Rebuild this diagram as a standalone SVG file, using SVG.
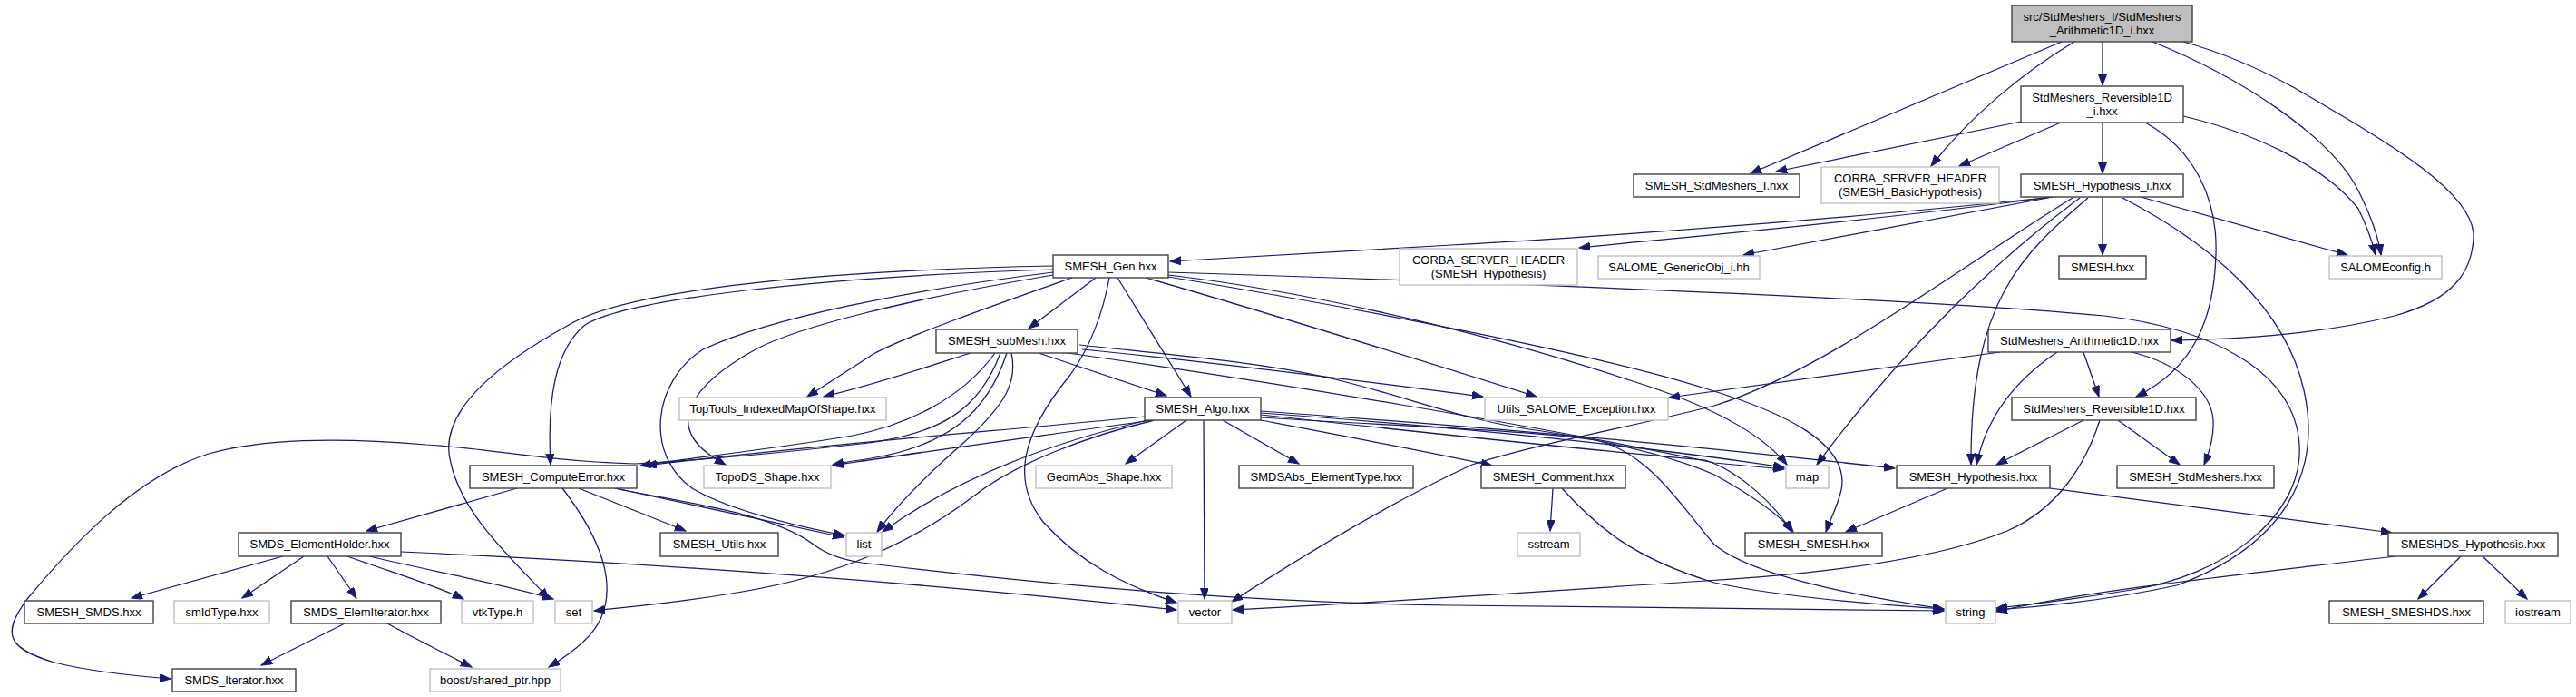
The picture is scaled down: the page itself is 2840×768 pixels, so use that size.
<svg xmlns="http://www.w3.org/2000/svg" width="2840" height="768" viewBox="0 0 2840 768">
<defs>
<style>
.e{fill:none;stroke:#191970;stroke-width:1.25;marker-end:url(#a)}
.n rect{fill:#fff;stroke:#404040;stroke-width:1.4}
.g rect{fill:#fff;stroke:#bfbfbf;stroke-width:1.4}
.r rect{fill:#bfbfbf;stroke:#404040;stroke-width:1.4}
text{font-family:"Liberation Sans",Arial,sans-serif;font-size:13px;text-anchor:middle;fill:#000}
</style>
<marker id="a" markerUnits="userSpaceOnUse" markerWidth="13" markerHeight="10" refX="12" refY="4.5" orient="auto"><path d="M0,0 L12,4.5 L0,9 z" fill="#191970" stroke="#191970" stroke-width="1"/></marker>
</defs>
<rect width="2840" height="768" fill="#fff"/>
<g id="edges">
<path class="e" d="M2273,46 L1930,191"/>
<path class="e" d="M2287,46 C2230,80 2170,130 2129,183"/>
<path class="e" d="M2318,46 L2318,94"/>
<path class="e" d="M2373,46 C2470,85 2570,150 2600,210 C2615,240 2622,260 2625,281"/>
<path class="e" d="M2407,46 C2450,58 2490,75 2530,97 C2620,150 2730,210 2727,262 C2725,300 2705,330 2640,348 C2560,368 2470,374 2394,375"/>
<path class="e" d="M2228,134 L1958,189"/>
<path class="e" d="M2272,135 L2160,183"/>
<path class="e" d="M2318,135 L2318,191"/>
<path class="e" d="M2407,128 C2480,145 2560,180 2600,230 C2610,250 2615,265 2619,281"/>
<path class="e" d="M2365,135 C2420,165 2445,220 2443,280 C2441,350 2420,405 2355,437"/>
<path class="e" d="M2263,217 C2050,240 1750,262 1600,270 C1480,277 1380,283 1290,288"/>
<path class="e" d="M2263,217 C2050,245 1850,262 1741,273"/>
<path class="e" d="M2263,217 L1922,281"/>
<path class="e" d="M2318,217 L2318,281"/>
<path class="e" d="M2360,217 L2588,281"/>
<path class="e" d="M2293,218 C2210,280 2100,380 2003,512"/>
<path class="e" d="M2285,218 C2160,295 2010,410 1890,447 C1800,470 1690,490 1623,512 C1540,550 1440,610 1358,663"/>
<path class="e" d="M2302,218 C2230,280 2172,330 2173,512"/>
<path class="e" d="M2340,218 C2440,270 2520,340 2540,430 C2560,520 2520,600 2400,645 C2330,660 2260,668 2201,672"/>
<path class="e" d="M1208,306 L1134,362"/>
<path class="e" d="M1232,306 L1313,437"/>
<path class="e" d="M1223,306 C1215,350 1200,385 1180,413 C1125,480 1115,530 1150,575 C1190,620 1240,645 1297,664"/>
<path class="e" d="M1263,306 C1400,345 1560,395 1694,437"/>
<path class="e" d="M1288,300 C1600,310 2100,328 2320,348 C2440,362 2530,410 2535,490 C2540,570 2450,635 2350,650 C2300,658 2250,665 2201,670"/>
<path class="e" d="M1288,303 C1450,322 1650,370 1800,420 C1880,445 1940,475 1970,512"/>
<path class="e" d="M1288,305 C1500,340 1760,390 1880,428 C1970,455 2040,490 2030,540 C2025,560 2018,572 2013,586"/>
<path class="e" d="M1161,293 C900,298 690,320 627,358 C560,395 480,450 497,510 C510,570 570,620 605,660"/>
<path class="e" d="M1161,297 C900,305 690,330 645,358 C612,385 603,440 607,512"/>
<path class="e" d="M1161,300 C1000,320 850,350 775,385 C720,420 710,500 763,538 C800,560 870,578 931,590"/>
<path class="e" d="M1161,303 C1000,330 880,360 833,385 C770,420 720,470 800,512"/>
<path class="e" d="M1182,306 C1100,335 1000,370 963,390 L890,437"/>
<path class="e" d="M1070,389 C1020,405 960,425 908,437"/>
<path class="e" d="M1097,389 C1060,440 1000,468 940,480 C850,495 760,505 706,513"/>
<path class="e" d="M1103,389 C1080,450 1040,480 940,490 C850,500 760,508 700,511 C600,508 520,492 470,490 C400,484 300,480 230,500 C150,525 80,600 30,660 C0,700 10,715 60,730 C100,740 150,745 188,748"/>
<path class="e" d="M1110,389 C1090,450 1050,495 940,508 L918,512"/>
<path class="e" d="M1115,389 C1122,420 1110,445 1060,490 C1020,525 990,555 967,586"/>
<path class="e" d="M1145,389 L1286,436"/>
<path class="e" d="M1193,385 C1350,400 1500,420 1635,437"/>
<path class="e" d="M1190,380 C1300,392 1400,400 1480,420 C1560,440 1620,465 1700,475 C1800,490 1860,510 1890,523 C1930,545 1960,565 1977,586"/>
<path class="e" d="M1170,388 C1400,420 1700,470 1890,510 L1967,517"/>
<path class="e" d="M1262,459 C1100,475 900,490 712,513"/>
<path class="e" d="M1270,463 C1150,480 1000,500 918,513"/>
<path class="e" d="M1265,463 C1150,490 1050,530 973,586"/>
<path class="e" d="M1273,463 C1200,480 1120,510 1073,547 C990,610 900,640 800,655 C740,665 700,668 655,673"/>
<path class="e" d="M1308,463 L1241,511"/>
<path class="e" d="M1327,463 L1328,660"/>
<path class="e" d="M1348,463 L1432,511"/>
<path class="e" d="M1390,463 C1480,480 1560,495 1645,513"/>
<path class="e" d="M1390,455 C1600,470 1800,490 1967,515"/>
<path class="e" d="M1390,457 C1600,480 1800,500 1880,507 C1920,520 1960,560 1975,586"/>
<path class="e" d="M1390,453 C1700,475 1900,495 2089,516"/>
<path class="e" d="M1390,460 C1550,470 1700,475 1760,485 C1820,500 1855,560 1890,600 C1920,625 2000,650 2143,671"/>
<path class="e" d="M570,538 L404,585"/>
<path class="e" d="M638,538 L756,585"/>
<path class="e" d="M678,538 L930,592"/>
<path class="e" d="M678,538 C760,555 850,565 897,600 C910,610 930,617 950,620 C1200,650 1400,664 1600,667 C1800,670 2000,672 2143,673"/>
<path class="e" d="M620,538 C660,590 680,640 663,680 C655,700 630,720 605,735"/>
<path class="e" d="M312,613 L145,659"/>
<path class="e" d="M335,613 L267,659"/>
<path class="e" d="M361,613 L393,659"/>
<path class="e" d="M383,613 C430,630 480,645 511,660"/>
<path class="e" d="M407,613 C480,630 560,645 610,660"/>
<path class="e" d="M442,608 C700,620 1000,640 1297,672"/>
<path class="e" d="M380,687 L288,733"/>
<path class="e" d="M427,687 C460,705 490,720 520,735"/>
<path class="e" d="M1712,538 L1709,585"/>
<path class="e" d="M1722,538 C1760,580 1800,615 1890,642 C1950,655 2050,665 2143,671"/>
<path class="e" d="M2147,538 L2035,586"/>
<path class="e" d="M2260,538 L2637,587"/>
<path class="e" d="M2713,613 L2666,660"/>
<path class="e" d="M2737,613 L2786,660"/>
<path class="e" d="M2640,613 C2500,630 2300,650 2201,674"/>
<path class="e" d="M2205,388 L1840,438"/>
<path class="e" d="M2268,388 C2220,420 2190,460 2179,512"/>
<path class="e" d="M2297,388 L2314,437"/>
<path class="e" d="M2350,388 C2400,400 2438,430 2440,463 C2441,480 2437,495 2430,512"/>
<path class="e" d="M2297,463 L2201,512"/>
<path class="e" d="M2335,463 L2403,512"/>
<path class="e" d="M2315,463 C2300,510 2270,560 2213,585 C2150,610 2050,630 1880,640 C1700,652 1500,665 1359,672"/>
</g>
<g id="n0" class="r"><rect x="2218" y="6" width="199" height="40"/><text x="2317.5" y="23">src/StdMeshers_I/StdMeshers</text><text x="2317.5" y="38">_Arithmetic1D_i.hxx</text></g>
<g id="n1" class="n"><rect x="2228" y="95" width="179" height="40"/><text x="2317.5" y="112">StdMeshers_Reversible1D</text><text x="2317.5" y="127">_i.hxx</text></g>
<g id="n2" class="n"><rect x="1801" y="192" width="183" height="25"/><text x="1892.5" y="209">SMESH_StdMeshers_I.hxx</text></g>
<g id="n3" class="g"><rect x="2008" y="184" width="196" height="40"/><text x="2106" y="201">CORBA_SERVER_HEADER</text><text x="2106" y="216">(SMESH_BasicHypothesis)</text></g>
<g id="n4" class="n"><rect x="2228" y="192" width="179" height="25"/><text x="2317.5" y="209">SMESH_Hypothesis_i.hxx</text></g>
<g id="n5" class="g"><rect x="2568" y="282" width="124" height="25"/><text x="2630" y="299">SALOMEconfig.h</text></g>
<g id="n6" class="n"><rect x="1161" y="281" width="127" height="25"/><text x="1224.5" y="298">SMESH_Gen.hxx</text></g>
<g id="n7" class="g"><rect x="1543" y="274" width="196" height="40"/><text x="1641" y="291">CORBA_SERVER_HEADER</text><text x="1641" y="306">(SMESH_Hypothesis)</text></g>
<g id="n8" class="g"><rect x="1762" y="282" width="178" height="25"/><text x="1851" y="299">SALOME_GenericObj_i.hh</text></g>
<g id="n9" class="n"><rect x="2270" y="282" width="96" height="25"/><text x="2318" y="299">SMESH.hxx</text></g>
<g id="n10" class="n"><rect x="2192" y="363" width="201" height="25"/><text x="2292.5" y="380">StdMeshers_Arithmetic1D.hxx</text></g>
<g id="n11" class="n"><rect x="1032" y="363" width="156" height="26"/><text x="1110" y="380">SMESH_subMesh.hxx</text></g>
<g id="n12" class="g"><rect x="749" y="438" width="228" height="25"/><text x="863" y="455">TopTools_IndexedMapOfShape.hxx</text></g>
<g id="n13" class="g"><rect x="1637" y="438" width="202" height="25"/><text x="1738" y="455">Utils_SALOME_Exception.hxx</text></g>
<g id="n14" class="n"><rect x="1262" y="438" width="128" height="25"/><text x="1326" y="455">SMESH_Algo.hxx</text></g>
<g id="n15" class="n"><rect x="2218" y="438" width="203" height="25"/><text x="2319.5" y="455">StdMeshers_Reversible1D.hxx</text></g>
<g id="n16" class="n"><rect x="518" y="513" width="184" height="25"/><text x="610" y="530">SMESH_ComputeError.hxx</text></g>
<g id="n17" class="g"><rect x="776" y="513" width="140" height="25"/><text x="846" y="530">TopoDS_Shape.hxx</text></g>
<g id="n18" class="g"><rect x="1142" y="513" width="150" height="25"/><text x="1217" y="530">GeomAbs_Shape.hxx</text></g>
<g id="n19" class="n"><rect x="1366" y="513" width="192" height="25"/><text x="1462" y="530">SMDSAbs_ElementType.hxx</text></g>
<g id="n20" class="n"><rect x="1633" y="513" width="159" height="25"/><text x="1712.5" y="530">SMESH_Comment.hxx</text></g>
<g id="n21" class="g"><rect x="1969" y="513" width="47" height="25"/><text x="1992.5" y="530">map</text></g>
<g id="n22" class="n"><rect x="2091" y="513" width="169" height="25"/><text x="2175.5" y="530">SMESH_Hypothesis.hxx</text></g>
<g id="n23" class="n"><rect x="2334" y="513" width="173" height="25"/><text x="2420.5" y="530">SMESH_StdMeshers.hxx</text></g>
<g id="n24" class="n"><rect x="263" y="587" width="179" height="26"/><text x="352.5" y="604">SMDS_ElementHolder.hxx</text></g>
<g id="n25" class="n"><rect x="728" y="587" width="130" height="26"/><text x="793" y="604">SMESH_Utils.hxx</text></g>
<g id="n26" class="g"><rect x="933" y="587" width="39" height="26"/><text x="952.5" y="604">list</text></g>
<g id="n27" class="g"><rect x="1673" y="587" width="69" height="26"/><text x="1707.5" y="604">sstream</text></g>
<g id="n28" class="n"><rect x="1924" y="587" width="151" height="26"/><text x="1999.5" y="604">SMESH_SMESH.hxx</text></g>
<g id="n29" class="n"><rect x="2633" y="587" width="187" height="26"/><text x="2726.5" y="604">SMESHDS_Hypothesis.hxx</text></g>
<g id="n30" class="n"><rect x="27" y="662" width="142" height="25"/><text x="98" y="679">SMESH_SMDS.hxx</text></g>
<g id="n31" class="g"><rect x="192" y="662" width="105" height="25"/><text x="244.5" y="679">smIdType.hxx</text></g>
<g id="n32" class="n"><rect x="321" y="662" width="165" height="25"/><text x="403.5" y="679">SMDS_ElemIterator.hxx</text></g>
<g id="n33" class="g"><rect x="509" y="662" width="79" height="25"/><text x="548.5" y="679">vtkType.h</text></g>
<g id="n34" class="g"><rect x="612" y="662" width="41" height="25"/><text x="632.5" y="679">set</text></g>
<g id="n35" class="g"><rect x="1299" y="662" width="59" height="25"/><text x="1328.5" y="679">vector</text></g>
<g id="n36" class="g"><rect x="2145" y="662" width="55" height="25"/><text x="2172.5" y="679">string</text></g>
<g id="n37" class="n"><rect x="2568" y="662" width="170" height="25"/><text x="2653" y="679">SMESH_SMESHDS.hxx</text></g>
<g id="n38" class="g"><rect x="2762" y="662" width="72" height="25"/><text x="2798" y="679">iostream</text></g>
<g id="n39" class="n"><rect x="190" y="737" width="136" height="25"/><text x="258" y="754">SMDS_Iterator.hxx</text></g>
<g id="n40" class="g"><rect x="474" y="737" width="144" height="25"/><text x="546" y="754">boost/shared_ptr.hpp</text></g>
</svg>
